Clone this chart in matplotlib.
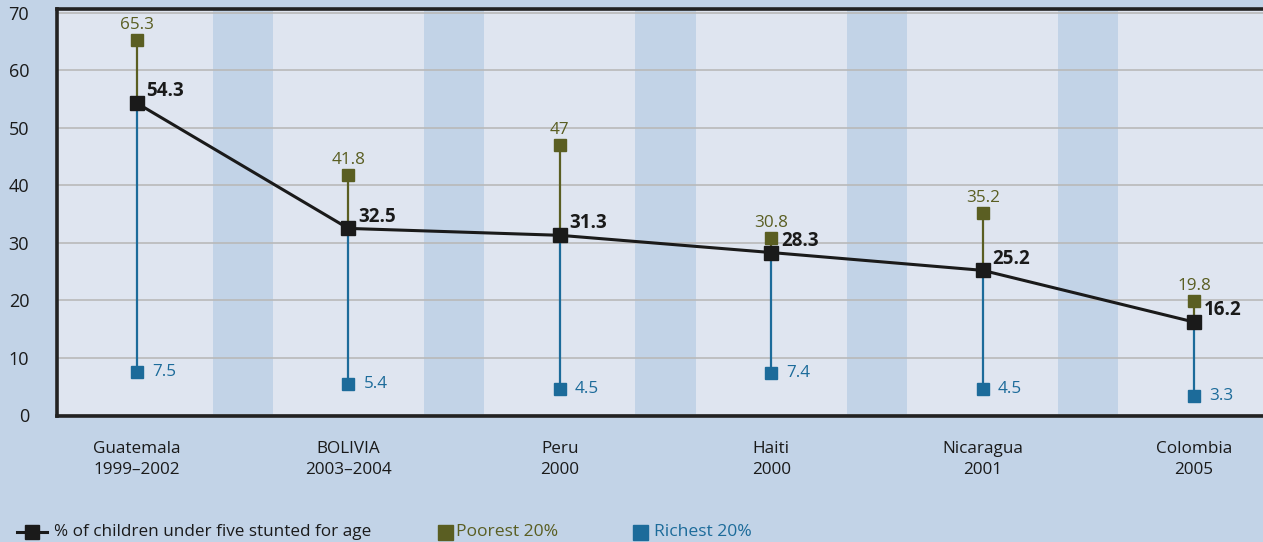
import matplotlib.pyplot as plt
from matplotlib.lines import Line2D
import numpy as np

plt.rcParams['font.family'] = ['Open Sans', 'DejaVu Sans']

# Data
countries = ["Guatemala\n1999–2002", "BOLIVIA\n2003–2004", "Peru\n2000",
             "Haiti\n2000", "Nicaragua\n2001", "Colombia\n2005"]
stunted = [54.3, 32.5, 31.3, 28.3, 25.2, 16.2]
poorest = [65.3, 41.8, 47, 30.8, 35.2, 19.8]
richest = [7.5, 5.4, 4.5, 7.4, 4.5, 3.3]
poorest_labels = ["65.3", "41.8", "47", "30.8", "35.2", "19.8"]

bg = "#c2d3e7"
panel = "#dfe5f0"
olive = "#5a5e22"
blue = "#1c6b9a"
dark = "#1a1a1a"

W, H = 1263, 542
fig = plt.figure(figsize=(W / 100, H / 100), dpi=100, facecolor=bg)
ax = fig.add_axes([0.0451, 0.2325, 0.9549, 0.751])
ax.set_facecolor(panel)

x = np.arange(len(countries))

# Darker bands between categories
for i in range(len(countries) - 1):
    ax.axvspan(x[i] + 0.5 - 0.142, x[i] + 0.5 + 0.142, color=bg, lw=0, zorder=0)

ax.set_ylim(-0.15, 70.7)
ax.set_xlim(-0.378, 5.326)
ax.set_yticks(range(0, 80, 10))
ax.yaxis.grid(True, color="#b9b9b9", lw=1.2, zorder=1)
ax.set_axisbelow(True)

# Range lines
ax.vlines(x, stunted, poorest, color=olive, lw=1.6, zorder=2)
ax.vlines(x, richest, stunted, color=blue, lw=1.6, zorder=2)

ax.plot(x, poorest, ls="none", marker="s", ms=8.5, color=olive, zorder=3)
ax.plot(x, richest, ls="none", marker="s", ms=8.5, color=blue, zorder=3)
ax.plot(x, stunted, color=dark, lw=2.2, marker="s", ms=9.5, zorder=4)

# Value labels
for xi, p, pl, s, r in zip(x, poorest, poorest_labels, stunted, richest):
    ax.annotate(pl, (xi, p), xytext=(0, 5), textcoords="offset points",
                ha="center", va="bottom", color=olive, fontsize=12.3)
    ax.annotate(f"{s}", (xi, s), xytext=(7, 8.5), textcoords="offset points",
                ha="left", va="center", color=dark, fontsize=13.5, fontweight="bold")
    ax.annotate(f"{r}", (xi, r), xytext=(11, 0), textcoords="offset points",
                ha="left", va="center", color=blue, fontsize=12.3)

ax.set_xticks(x)
ax.set_xticklabels(countries, fontsize=12.3, color=dark, linespacing=1.45)
ax.tick_params(axis="x", length=0, pad=18)
ax.tick_params(axis="y", length=0, pad=20, labelsize=13, labelcolor=dark)

for side in ["left", "bottom", "top"]:
    ax.spines[side].set_color("#222222")
    ax.spines[side].set_linewidth(2.6)
ax.spines["right"].set_visible(False)

# Legend drawn by hand in pixel positions of the figure
def fx(px):
    return px / W

def fy(py):
    return 1 - py / H

ly = 531.5
fig.add_artist(Line2D([fx(17), fx(47)], [fy(ly), fy(ly)], color=dark, lw=2.2,
                      transform=fig.transFigure))
fig.add_artist(Line2D([fx(32)], [fy(ly)], ls="none", marker="s", ms=10, color=dark,
                      transform=fig.transFigure))
fig.text(fx(54), fy(ly), "% of children under five stunted for age", color=dark,
         fontsize=12.3, va="center", ha="left")
fig.add_artist(Line2D([fx(444.5)], [fy(ly)], ls="none", marker="s", ms=10.8, color=olive,
                      transform=fig.transFigure))
fig.text(fx(456), fy(ly), "Poorest 20%", color=olive, fontsize=12.6, va="center", ha="left")
fig.add_artist(Line2D([fx(639.5)], [fy(ly)], ls="none", marker="s", ms=10.8, color=blue,
                      transform=fig.transFigure))
fig.text(fx(654), fy(ly), "Richest 20%", color=blue, fontsize=12.6, va="center", ha="left")

plt.savefig("out.png", dpi=100, facecolor=bg)
